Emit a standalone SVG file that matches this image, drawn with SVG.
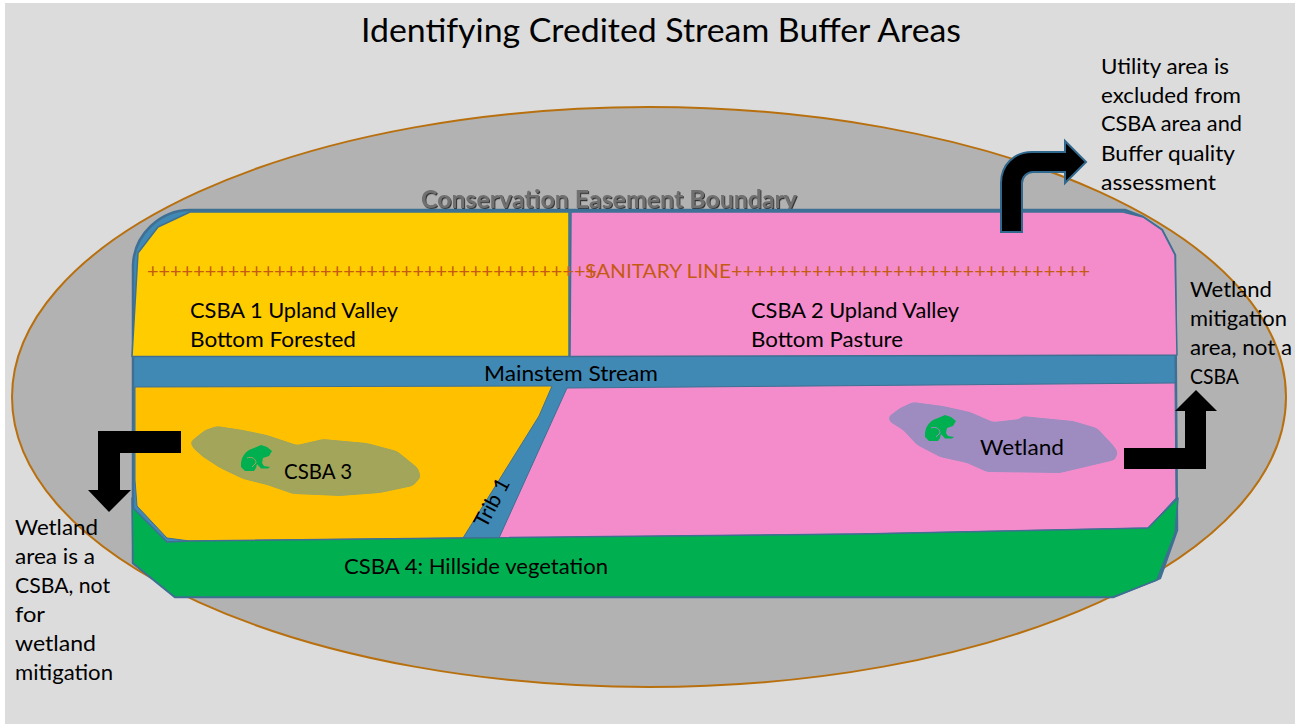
<svg xmlns="http://www.w3.org/2000/svg" width="1295" height="725" viewBox="0 0 1295 725">
<style>
text{font-family:"Lato","Open Sans","Liberation Sans",sans-serif;fill:#000;font-size:21px}
.edge{stroke:#3f6f92;stroke-width:1.5;stroke-linejoin:round}
.arrow{fill:#000}
.sh{filter:url(#shadow)}
.blob{filter:url(#smooth)}
.frog{fill:#00b050}
.thigh{fill:none;stroke-width:1}
</style>
<defs>
<filter id="shadow" x="-5%" y="-30%" width="110%" height="160%"><feDropShadow dx="1" dy="1.200" stdDeviation="0.7" flood-color="#222" flood-opacity="0.9"/></filter>
<filter id="smooth" x="-5%" y="-10%" width="110%" height="120%" color-interpolation-filters="sRGB"><feGaussianBlur stdDeviation="2"/><feComponentTransfer><feFuncA type="linear" slope="7" intercept="-3"/></feComponentTransfer></filter>
<path id="frog" d="M0,18C1,10 6,5 13,3L20,0L26,2L31,6L28,11L22,13L21,18L23,21L29,22L27,23.500L20,23.500L16,19L15,23L13,26L4,26L0,22Z"/>
</defs>
<rect width="1295" height="725" fill="#fff"/>
<rect x="5" y="3" width="1290" height="721" fill="#dcdcdc"/>
<g id="easement"><ellipse cx="649" cy="397" rx="637" ry="290" fill="#b2b2b2" stroke="#b8700f" stroke-width="2"/></g>
<text id="title" x="361" y="42" style="font-size:33px" textLength="600" lengthAdjust="spacingAndGlyphs">Identifying Credited Stream Buffer Areas</text>
<text id="easement-label" class="sh" x="421" y="208" style="font-size:24px;fill:#6f6f6f;font-weight:700" textLength="376" lengthAdjust="spacingAndGlyphs">Conservation Easement Boundary</text>
<g id="stream">
<path class="edge" style="stroke-width:2.500" fill="#4189b5" d="M133,265C134,235 160,210 190,210H1125L1143,217L1162,230L1175,255L1177,530L1160,578L1113,597H175L133,563Z"/>
</g>
<g id="csba1">
<path class="edge" fill="#ffcc00" d="M190,212H569V356.500H132L138,253L158,227Z"/>
<text x="190" y="318" textLength="208" lengthAdjust="spacingAndGlyphs">CSBA 1 Upland Valley</text>
<text x="190" y="347" textLength="166" lengthAdjust="spacingAndGlyphs">Bottom Forested</text>
</g>
<g id="csba2">
<path class="edge" fill="#f48ccc" d="M571,212H1123L1143,217L1162,230L1175,255L1177,355L570,356.500Z"/>
<text x="751" y="318" textLength="208" lengthAdjust="spacingAndGlyphs">CSBA 2 Upland Valley</text>
<text x="751" y="347" textLength="152" lengthAdjust="spacingAndGlyphs">Bottom Pasture</text>
</g>
<g id="csba3">
<path class="edge" style="stroke-width:1" fill="#ffc000" d="M135,387L552,386L539,416L463,538L190,541L167,538L137,506L135,480Z"/>
<path class="blob" fill="#a2a55a" d="M190,442L205,430L217,426L243,430L267,435L297,445L323,439L367,443L397,451L418,468L421,477L413,486L380,493L340,496L293,494L267,485L243,479L220,468L203,457L193,448Z"/>
<use class="frog" href="#frog" x="241" y="445"/>
<path class="thigh" stroke="#a2a55a" d="M247,458C252,456 256,459 256,463L252,467"/>
<text x="284" y="479" textLength="68" lengthAdjust="spacingAndGlyphs">CSBA 3</text>
</g>
<g id="wetland-mitigation">
<path class="edge" style="stroke-width:1" fill="#f48ccc" d="M567,388L1175,383L1176,498L1148,528L860,534L499,538Z"/>
<path class="blob" fill="#9e8cc0" d="M888,417L900,408L913,402L943,406L970,412L993,422L1020,419L1022,416L1073,421L1097,428L1113,445L1118,452L1115,460L1077,469L1060,473L987,472L967,463L940,457L917,445L903,430L890,422Z"/>
<use class="frog" href="#frog" x="925" y="415"/>
<path class="thigh" stroke="#9e8cc0" d="M931,428C936,426 940,429 940,433L936,437"/>
<text x="980" y="455" textLength="84" lengthAdjust="spacingAndGlyphs">Wetland</text>
</g>
<g id="stream-labels">
<text x="484" y="381" textLength="174" lengthAdjust="spacingAndGlyphs">Mainstem Stream</text>
<text transform="translate(486,529) rotate(-62)" textLength="52" lengthAdjust="spacingAndGlyphs">Trib 1</text>
</g>
<g id="csba4">
<path class="edge" fill="#00b050" d="M132,498L133,508L167,542L190,541L463,538L860,534L1148,528L1178,498L1175,533L1157,580L1113,597H175L133,563Z"/>
<text x="344" y="574" textLength="264" lengthAdjust="spacingAndGlyphs">CSBA 4: Hillside vegetation</text>
</g>
<g id="sanitary">
<text y="278" style="fill:#c55a11;font-size:20px"><tspan x="147" textLength="450" lengthAdjust="spacingAndGlyphs">+++++++++++++++++++++++++++++++++++++++</tspan><tspan x="585" textLength="146" lengthAdjust="spacingAndGlyphs">SANITARY LINE</tspan><tspan x="731" textLength="359" lengthAdjust="spacingAndGlyphs">+++++++++++++++++++++++++++++++</tspan></text>
</g>
<g id="connectors">
<path id="arrow-utility" class="arrow" stroke="#31688e" stroke-width="2" d="M1001,232V183C1001,165 1014,152 1032,152H1065V141L1086,162L1065,183V172H1033C1027,172 1022,177 1022,183V232Z"/>
<path id="arrow-left" class="arrow" d="M181,431H98V490H88L109,512L131,490H120V453H181Z"/>
<path id="arrow-right" class="arrow" d="M1124,448H1185V411H1175L1196,390L1217,411H1206V469H1124Z"/>
</g>
<g id="note-utility">
<text x="1101" y="74" textLength="128" lengthAdjust="spacingAndGlyphs">Utility area is</text>
<text x="1101" y="103" textLength="140" lengthAdjust="spacingAndGlyphs">excluded from</text>
<text x="1101" y="131" textLength="141" lengthAdjust="spacingAndGlyphs">CSBA area and</text>
<text x="1101" y="161" textLength="134" lengthAdjust="spacingAndGlyphs">Buffer quality</text>
<text x="1101" y="190" textLength="115" lengthAdjust="spacingAndGlyphs">assessment</text>
</g>
<g id="note-mitigation">
<text x="1190" y="297" textLength="82" lengthAdjust="spacingAndGlyphs">Wetland</text>
<text x="1190" y="326" textLength="97" lengthAdjust="spacingAndGlyphs">mitigation</text>
<text x="1190" y="355" textLength="102" lengthAdjust="spacingAndGlyphs">area, not a</text>
<text x="1190" y="384" textLength="49" lengthAdjust="spacingAndGlyphs">CSBA</text>
</g>
<g id="note-csba">
<text x="15" y="535" textLength="83" lengthAdjust="spacingAndGlyphs">Wetland</text>
<text x="15" y="564" textLength="80" lengthAdjust="spacingAndGlyphs">area is a</text>
<text x="15" y="593" textLength="95" lengthAdjust="spacingAndGlyphs">CSBA, not</text>
<text x="15" y="622" textLength="30" lengthAdjust="spacingAndGlyphs">for</text>
<text x="15" y="651" textLength="81" lengthAdjust="spacingAndGlyphs">wetland</text>
<text x="15" y="680" textLength="98" lengthAdjust="spacingAndGlyphs">mitigation</text>
</g>
</svg>
